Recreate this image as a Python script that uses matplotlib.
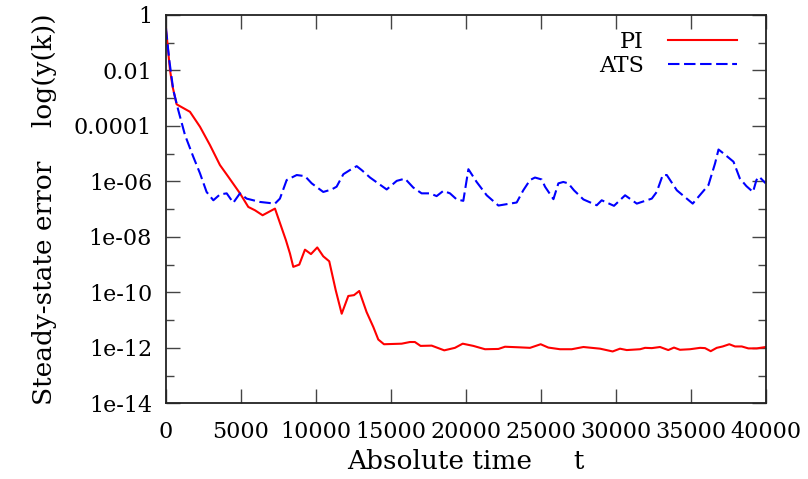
import numpy as np
import matplotlib
matplotlib.use("Agg")
import matplotlib.pyplot as plt
from matplotlib.ticker import FixedLocator, FixedFormatter

# Data: time stamps and log10 of the error
t_pi = [0, 267, 445, 711, 1600, 2270, 2935, 3600, 4155, 4935, 5490, 5935, 6445,
        7270, 8000, 8270, 8490, 8890, 9270, 9670, 10090, 10490, 10890, 11320,
        11720, 12160, 12540, 12890, 13380, 13830, 14160, 14540, 15720, 16270,
        16600, 16980, 17720, 18560, 19270, 19790, 20500, 21280, 22170, 22610,
        23500, 24280, 24990, 25500, 26280, 27060, 27840, 28950, 29790, 30280,
        30730, 31620, 31950, 32400, 32950, 33500, 33880, 34280, 34950, 35620,
        35950, 36330, 36730, 37130, 37570, 37950, 38400, 38840, 39400, 40000]
log_pi = [-0.48, -1.98, -2.59, -3.22, -3.49, -4.03, -4.69, -5.41, -5.83, -6.43,
          -6.92, -7.04, -7.22, -6.98, -8.12, -8.6, -9.08, -9.0, -8.46, -8.62,
          -8.38, -8.70, -8.88, -9.92, -10.77, -10.13, -10.1, -9.95, -10.71,
          -11.25, -11.70, -11.87, -11.85, -11.79, -11.79, -11.93, -11.92, -12.09,
          -12.0, -11.85, -11.93, -12.05, -12.04, -11.96, -11.98, -12.0, -11.87,
          -11.99, -12.05, -12.05, -11.97, -12.03, -12.13, -12.03, -12.08, -12.05,
          -12.0, -12.01, -11.97, -12.08, -11.99, -12.07, -12.05, -12.0, -12.01,
          -12.12, -12.0, -11.95, -11.87, -11.95, -11.95, -12.02, -12.02, -11.97]

t_ats = [0, 220, 490, 820, 1270, 1820, 2270, 2710, 3160, 3600, 4050, 4490, 4935,
         5380, 6270, 7270, 7600, 8050, 8720, 9270, 9720, 10490, 11050, 11380,
         11830, 12270, 12720, 13050, 13610, 14720, 15390, 15940, 16490, 17050,
         17610, 18050, 18500, 18940, 19390, 19830, 20170, 20720, 21390, 22170,
         23390, 23830, 24280, 24610, 25060, 25280, 25840, 26170, 26500, 26830,
         27210, 27840, 28730, 29060, 29880, 30620, 31400, 32400, 32730, 33130,
         33400, 34070, 35130, 36180, 36620, 36850, 37180, 37850, 38270, 38710,
         39150, 39380, 39560, 40000]
log_ats = [-0.48, -1.62, -2.71, -3.43, -4.33, -5.11, -5.71, -6.38, -6.68, -6.47,
           -6.43, -6.77, -6.43, -6.62, -6.74, -6.80, -6.62, -5.95, -5.77, -5.81,
           -6.07, -6.38, -6.29, -6.19, -5.74, -5.59, -5.45, -5.59, -5.86, -6.29,
           -5.98, -5.90, -6.22, -6.43, -6.43, -6.53, -6.34, -6.43, -6.65, -6.70,
           -5.56, -6.02, -6.50, -6.87, -6.76, -6.32, -5.95, -5.86, -5.93, -6.19,
           -6.64, -6.07, -6.02, -6.07, -6.32, -6.65, -6.86, -6.68, -6.88, -6.50,
           -6.80, -6.62, -6.38, -5.77, -5.77, -6.32, -6.80, -6.13, -5.35, -4.85,
           -4.99, -5.29, -5.89, -6.17, -6.38, -5.95, -5.83, -6.07]

y_major = [1, 1e-2, 1e-4, 1e-6, 1e-8, 1e-10, 1e-12, 1e-14]
y_labels = ["1", "0.01", "0.0001", "1e-06", "1e-08", "1e-10", "1e-12", "1e-14"]
y_minor = [1e-1, 1e-3, 1e-5, 1e-7, 1e-9, 1e-11, 1e-13]
x_ticks = [0, 5000, 10000, 15000, 20000, 25000, 30000, 35000, 40000]

plt.rcParams['font.family'] = ['DejaVu Serif']
plt.rcParams['font.size'] = 16

fig = plt.figure(figsize=(8.08, 4.79), dpi=100)
ax = fig.add_axes([0.2054, 0.158, 0.7423, 0.8107])

ax.plot(t_pi, 10 ** np.array(log_pi), color='#ff0000', lw=1.5, label='PI')
ax.plot(t_ats, 10 ** np.array(log_ats), color='#0000ff', lw=1.5,
        dashes=(5.5, 2.2), label='ATS')

ax.set_yscale('log')
ax.set_xlim(0, 40000)
ax.set_ylim(1e-14, 1)

ax.yaxis.set_major_locator(FixedLocator(y_major))
ax.yaxis.set_major_formatter(FixedFormatter(y_labels))
ax.yaxis.set_minor_locator(FixedLocator(y_minor))
ax.yaxis.set_minor_formatter(FixedFormatter([]))
ax.set_xticks(x_ticks)
ax.set_xticklabels([str(v) for v in x_ticks])

ax.tick_params(which='major', direction='in', length=10, width=1, color='#444444',
               top=True, right=True, pad=10)
ax.tick_params(axis='x', which='major', pad=13)
ax.tick_params(which='minor', direction='in', length=5.5, width=1, color='#444444',
               right=True)
ax.tick_params(axis='x', which='minor', bottom=False, top=False)
for s in ax.spines.values():
    s.set_linewidth(1.3)
    s.set_color('#222222')

ax.set_xlabel("Absolute time     t", fontsize=19, labelpad=4)
ax.set_ylabel("Steady-state error    log(y(k))", fontsize=19, labelpad=12)

ax.legend(loc='upper right', bbox_to_anchor=(0.978, 1.0), frameon=False,
          markerfirst=False, handlelength=3.1, fontsize=16, borderaxespad=0.3,
          labelspacing=0.1, handletextpad=1.1)

fig.savefig('out.png', dpi=100)
